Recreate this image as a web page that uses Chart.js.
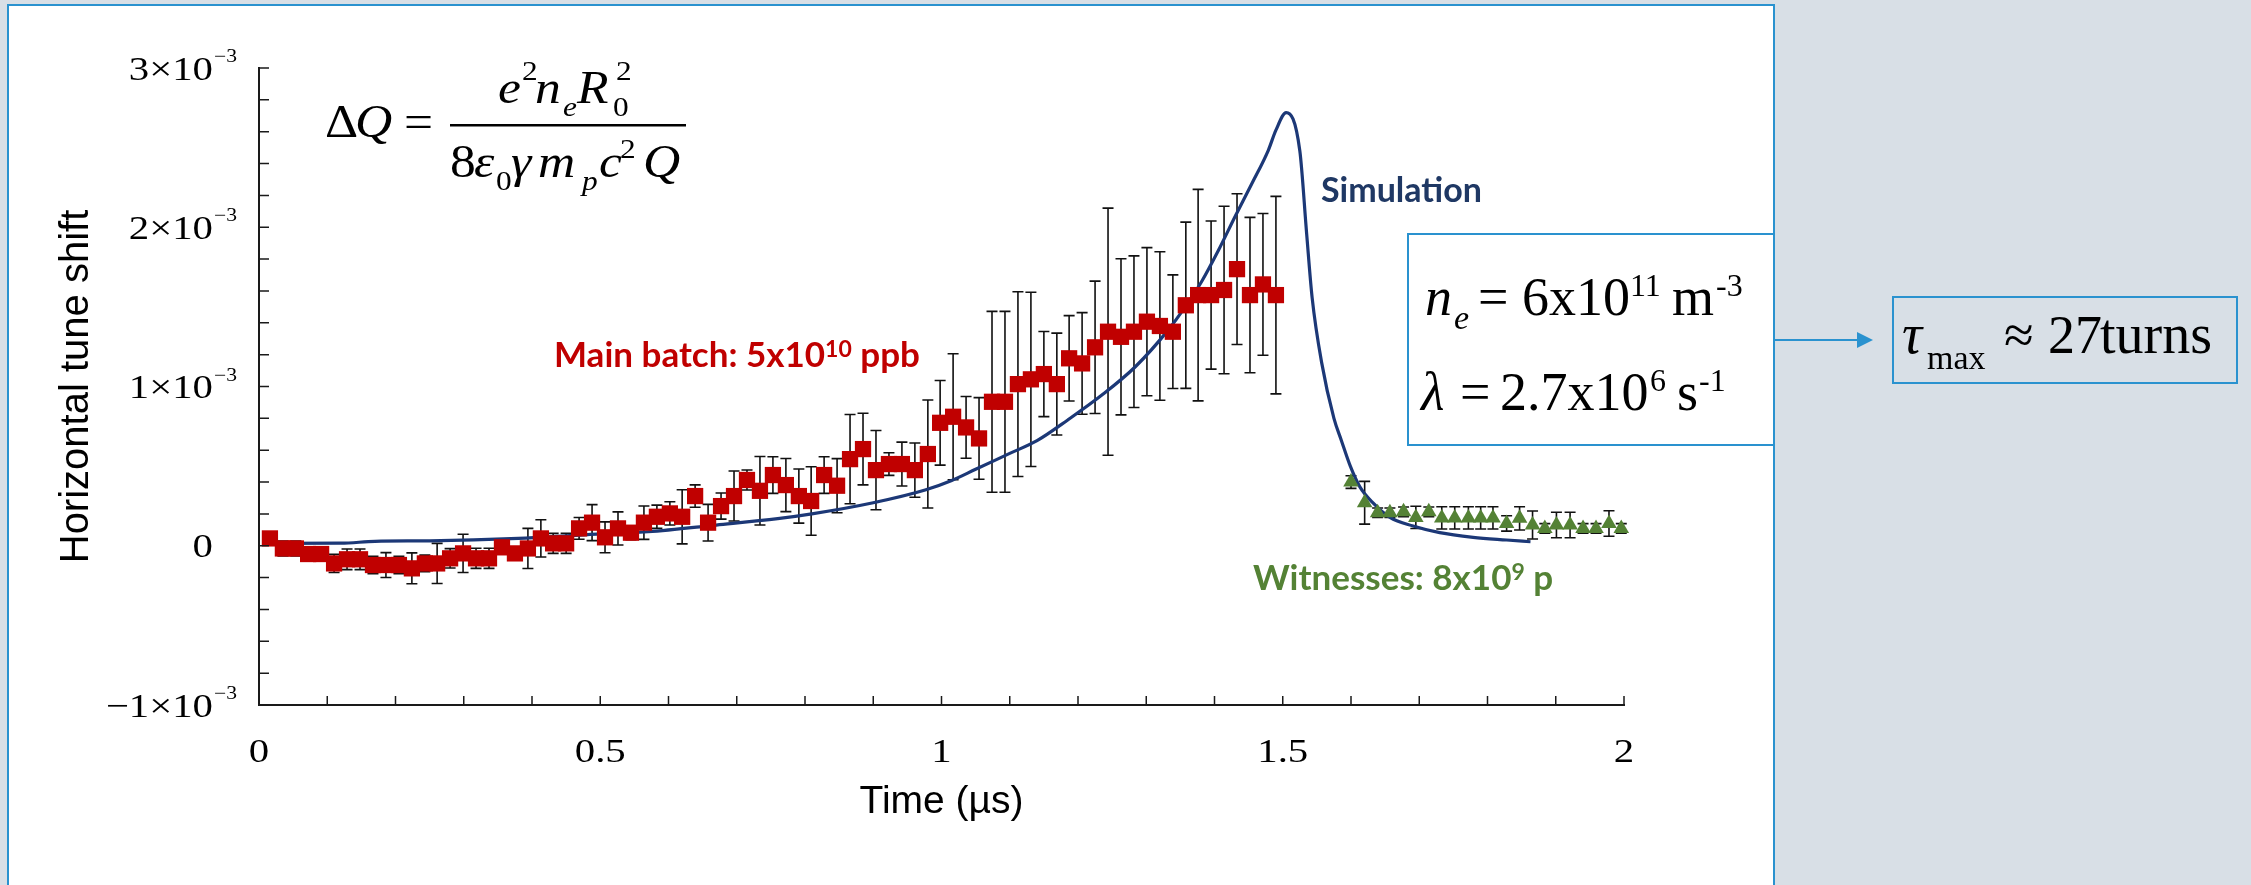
<!DOCTYPE html>
<html>
<head>
<meta charset="utf-8">
<script src="https://cdn.jsdelivr.net/npm/chart.js@4.4.1/dist/chart.umd.min.js"></script>
<style>
  html, body { margin: 0; padding: 0; }
  body { width: 2251px; height: 885px; background: #d8dfe6; position: relative; overflow: hidden; }
  #panel { position: absolute; left: 7px; top: 4px; width: 1768px; height: 900px; box-sizing: border-box;
           background: #fff; border: 2px solid #2a92cf; }
  #wrap { position: absolute; left: 0; top: 0; width: 2251px; height: 885px; }
</style>
</head>
<body>
<div id="panel"></div>
<div id="wrap"><canvas id="tuneChart"></canvas></div>
<script>
// Main batch (red squares): time in µs, tune shift and error in units of 1e-3
const mainTime = [0.016, 0.035, 0.054, 0.072, 0.091, 0.110, 0.129, 0.148, 0.167, 0.186,
  0.205, 0.224, 0.243, 0.261, 0.280, 0.299, 0.318, 0.337, 0.356, 0.375,
  0.394, 0.413, 0.431, 0.450, 0.469, 0.488, 0.507, 0.526, 0.545, 0.564,
  0.583, 0.602, 0.620, 0.639, 0.658, 0.677, 0.696, 0.715, 0.734, 0.753,
  0.772, 0.791, 0.809, 0.828, 0.847, 0.866, 0.885, 0.904, 0.923, 0.942,
  0.961, 0.980, 0.998, 1.017, 1.036, 1.055, 1.074, 1.093, 1.112, 1.131,
  1.150, 1.169, 1.187, 1.206, 1.225, 1.244, 1.263, 1.282, 1.301, 1.320,
  1.339, 1.358, 1.376, 1.395, 1.414, 1.433, 1.452, 1.471, 1.490];
const mainShift = [0.046, -0.017, -0.017, -0.052, -0.052, -0.111, -0.085, -0.085, -0.121, -0.121,
  -0.121, -0.142, -0.111, -0.111, -0.079, -0.048, -0.079, -0.079, -0.010, -0.048,
  -0.017, 0.046, 0.015, 0.015, 0.109, 0.145, 0.053, 0.109, 0.082, 0.145,
  0.182, 0.203, 0.182, 0.312, 0.145, 0.249, 0.312, 0.413, 0.345, 0.444,
  0.381, 0.312, 0.281, 0.444, 0.377, 0.544, 0.607, 0.475, 0.513, 0.513,
  0.475, 0.576, 0.772, 0.810, 0.743, 0.674, 0.904, 0.904, 1.015, 1.045,
  1.078, 1.015, 1.177, 1.145, 1.246, 1.344, 1.312, 1.344, 1.407, 1.380,
  1.344, 1.510, 1.574, 1.574, 1.606, 1.737, 1.574, 1.641, 1.574];
const mainErr = [0, 0.047, 0.047, 0.02, 0.02, 0.057, 0.065, 0.065, 0.054, 0.078,
  0.054, 0.097, 0.052, 0.126, 0.061, 0.12, 0.063, 0.063, 0.03, 0.03,
  0.126, 0.117, 0.063, 0.063, 0.068, 0.113, 0.097, 0.104, 0.044, 0.105,
  0.073, 0.073, 0.17, 0.07, 0.115, 0.082, 0.157, 0.063, 0.215, 0.115,
  0.167, 0.17, 0.215, 0.115, 0.17, 0.28, 0.225, 0.249, 0.071, 0.138,
  0.17, 0.339, 0.266, 0.396, 0.194, 0.256, 0.568, 0.568, 0.58, 0.547,
  0.267, 0.32, 0.268, 0.319, 0.416, 0.776, 0.49, 0.476, 0.465, 0.466,
  0.357, 0.522, 0.664, 0.465, 0.526, 0.473, 0.488, 0.445, 0.62];

// Witness bunches (green triangles)
const witnessTime = [1.600, 1.620, 1.639, 1.657, 1.677, 1.695, 1.714, 1.733, 1.752, 1.772, 1.790,
  1.808, 1.828, 1.847, 1.866, 1.884, 1.901, 1.921, 1.940, 1.959, 1.978, 1.996];
const witnessShift = [0.40, 0.27, 0.207, 0.207, 0.213, 0.178, 0.213, 0.175, 0.175, 0.175, 0.175,
  0.175, 0.14, 0.172, 0.13, 0.109, 0.13, 0.13, 0.109, 0.109, 0.14, 0.109];
const witnessErr = [0.04, 0.134, 0.03, 0.03, 0.03, 0.07, 0.03, 0.07, 0.07, 0.07, 0.07,
  0.07, 0.048, 0.073, 0.088, 0.03, 0.08, 0.08, 0.03, 0.03, 0.08, 0.03];

// Simulation curve
const simTime = [0.02, 0.12, 0.17, 0.25, 0.38, 0.47, 0.57, 0.67, 0.76, 0.81, 0.90, 0.976, 1.015,
  1.05, 1.10, 1.14, 1.185, 1.235, 1.284, 1.332, 1.357, 1.381, 1.406, 1.430, 1.455, 1.479, 1.490,
  1.505, 1.525, 1.535, 1.543, 1.557, 1.575, 1.586, 1.599, 1.613, 1.633, 1.657, 1.691, 1.730,
  1.779, 1.828, 1.863];
const simShift = [0.015, 0.016, 0.028, 0.031, 0.046, 0.067, 0.088, 0.13, 0.17, 0.20, 0.27, 0.35, 0.41,
  0.48, 0.58, 0.66, 0.79, 0.946, 1.124, 1.354, 1.50, 1.658, 1.857, 2.066, 2.276, 2.485, 2.61,
  2.72, 2.48, 1.96, 1.56, 1.15, 0.80, 0.66, 0.50, 0.37, 0.266, 0.178, 0.124, 0.082,
  0.053, 0.036, 0.025];

// Axis labels
const xTickValues = [0, 0.5, 1, 1.5, 2];
const xTickLabels = ['0', '0.5', '1', '1.5', '2'];
const yTickValues = [-1, 0, 1, 2, 3];
const yTickMantissa = ['\u22121\u00d710', '0', '1\u00d710', '2\u00d710', '3\u00d710'];
const yTickExponent = ['\u22123', '', '\u22123', '\u22123', '\u22123'];

const BLUE = '#2a92cf';
const SERIF = '"Liberation Serif", "Times New Roman", serif';
const SANS = '"Liberation Sans", Arial, sans-serif';
const LABEL = 'Lato, "Open Sans", sans-serif';

// the Mathcad labels are stretched sideways in the original
function stretched(ctx, text, x, y, font, align, sx) {
  ctx.save();
  ctx.translate(x, y);
  ctx.scale(sx || 1.2, 1);
  ctx.font = font;
  ctx.textAlign = align;
  ctx.fillText(text, 0, 0);
  ctx.restore();
}

function runText(ctx, x, y, color, parts) {
  ctx.fillStyle = color;
  ctx.textAlign = 'left';
  ctx.textBaseline = 'alphabetic';
  parts.forEach(([text, font, dy]) => {
    ctx.font = font;
    ctx.fillText(text, x, y + (dy || 0));
    x += ctx.measureText(text).width;
  });
}

function placeText(ctx, pieces, sx) {
  ctx.fillStyle = '#000';
  ctx.textBaseline = 'alphabetic';
  pieces.forEach(([text, font, x, y]) => stretched(ctx, text, x, y, font, 'left', sx));
}

const errorBars = {
  id: 'errorBars',
  beforeDatasetsDraw(chart) {
    const {ctx, scales: {x, y}} = chart;
    ctx.save();
    ctx.strokeStyle = '#111';
    ctx.lineWidth = 1.6;
    chart.data.datasets.forEach(ds => {
      if (!ds.errorBars) return;
      ds.data.forEach((p, j) => {
        const e = ds.errorBars[j];
        if (!e) return;
        const px = x.getPixelForValue(p.x);
        const top = y.getPixelForValue(p.y + e);
        const bot = y.getPixelForValue(p.y - e);
        ctx.beginPath();
        ctx.moveTo(px, top); ctx.lineTo(px, bot);
        ctx.moveTo(px - 5.5, top); ctx.lineTo(px + 5.5, top);
        ctx.moveTo(px - 5.5, bot); ctx.lineTo(px + 5.5, bot);
        ctx.stroke();
      });
    });
    ctx.restore();
  }
};

// inward ticks and the tick labels with superscripts
const axisDecor = {
  id: 'axisDecor',
  afterDraw(chart) {
    const {ctx, chartArea: a, scales: {x, y}} = chart;
    ctx.save();
    ctx.strokeStyle = '#1a1a1a';
    ctx.lineWidth = 1.5;
    ctx.beginPath();
    x.ticks.forEach(t => {
      const px = x.getPixelForValue(t.value);
      ctx.moveTo(px, a.bottom); ctx.lineTo(px, a.bottom - 9);
    });
    y.ticks.forEach(t => {
      const py = y.getPixelForValue(t.value);
      ctx.moveTo(a.left, py); ctx.lineTo(a.left + 10, py);
    });
    ctx.stroke();
    ctx.fillStyle = '#000';
    ctx.textBaseline = 'alphabetic';
    xTickValues.forEach((v, i) => {
      stretched(ctx, xTickLabels[i], x.getPixelForValue(v), a.bottom + 57, '34px ' + SERIF, 'center');
    });
    yTickValues.forEach((v, i) => {
      const py = y.getPixelForValue(v);
      stretched(ctx, yTickMantissa[i], a.left - 46, py + 11.5, '34px ' + SERIF, 'right');
      if (yTickExponent[i]) stretched(ctx, yTickExponent[i], a.left - 45, py - 6, '18px ' + SERIF, 'left');
    });
    ctx.restore();
  }
};

const annotations = {
  id: 'annotations',
  afterDraw(chart) {
    const ctx = chart.ctx;
    ctx.save();
    // tune shift formula
    const F = 'italic 46px ' + SERIF, U = '46px ' + SERIF;
    const S = '28px ' + SERIF, SI = 'italic 28px ' + SERIF;
    placeText(ctx, [
      ['\u0394', U, 325, 137], ['Q', F, 355, 137], ['=', U, 404, 137],
      ['e', F, 498, 103], ['2', S, 522, 80], ['n', F, 535, 103], ['e', SI, 563, 116],
      ['R', F, 577, 103], ['2', S, 616, 80], ['0', S, 613, 116],
      ['8', U, 450, 177], ['\u03b5', F, 474, 177], ['0', S, 496, 190], ['\u03b3', F, 511, 177],
      ['m', F, 538, 177], ['p', SI, 582, 190], ['c', F, 599, 177], ['2', S, 620, 158], ['Q', F, 643, 177]
    ], 1.12);
    ctx.fillRect(450, 124, 236, 2.5);

    // series labels
    const B = 'bold 35px ' + LABEL, BS = 'bold 23px ' + LABEL;
    runText(ctx, 554, 367, '#c00000', [['Main batch: 5x10', B], ['10', BS, -10], [' ppb', B]]);
    runText(ctx, 1321, 202, '#1f3864', [['Simulation', 'bold 34px ' + LABEL]]);
    runText(ctx, 1253, 590, '#548235', [['Witnesses: 8x10', B], ['9', BS, -10], [' p', B]]);

    // parameter box
    ctx.fillStyle = '#fff';
    ctx.fillRect(1408, 234, 365, 211);
    ctx.strokeStyle = BLUE;
    ctx.lineWidth = 2;
    ctx.strokeRect(1408, 234, 366, 211);
    const N = '54px ' + SERIF, NI = 'italic 54px ' + SERIF, NS = '32px ' + SERIF;
    placeText(ctx, [
      ['n', NI, 1425, 315], ['e', 'italic 34px ' + SERIF, 1454, 329], ['=', N, 1478, 315],
      ['6x10', N, 1522, 315], ['11', NS, 1630, 296], ['m', N, 1672, 315], ['-3', NS, 1716, 296],
      ['\u03bb', NI, 1421, 410], ['=', N, 1460, 410], ['2.7x10', N, 1500, 410], ['6', NS, 1650, 391],
      ['s', N, 1677, 410], ['-1', NS, 1699, 391]
    ], 1);

    // arrow and result box
    ctx.beginPath();
    ctx.moveTo(1775, 340); ctx.lineTo(1860, 340);
    ctx.stroke();
    ctx.fillStyle = BLUE;
    ctx.beginPath();
    ctx.moveTo(1857, 332); ctx.lineTo(1873, 340); ctx.lineTo(1857, 348);
    ctx.closePath();
    ctx.fill();
    ctx.strokeRect(1893, 297, 344, 86);
    placeText(ctx, [
      ['\u03c4', 'italic 56px ' + SERIF, 1902, 353], ['max', '34px ' + SERIF, 1927, 369],
      ['\u2248', '54px ' + SERIF, 2004, 353], ['27', '54px ' + SERIF, 2048, 353],
      ['turns', '56px ' + SERIF, 2100, 353]
    ], 1);
    ctx.restore();
  }
};

new Chart(document.getElementById('tuneChart'), {
  type: 'scatter',
  data: {
    datasets: [
      {
        label: 'Main batch',
        data: mainTime.map((t, i) => ({x: t, y: mainShift[i]})),
        errorBars: mainErr,
        pointStyle: 'rect',
        pointRadius: 11.5,
        pointHoverRadius: 11.5,
        backgroundColor: '#c00000',
        borderWidth: 0,
        clip: false
      },
      {
        label: 'Witnesses',
        data: witnessTime.map((t, i) => ({x: t, y: witnessShift[i]})),
        errorBars: witnessErr,
        pointStyle: 'triangle',
        pointRadius: 9,
        pointHoverRadius: 9,
        backgroundColor: '#548235',
        borderWidth: 0,
        clip: false
      },
      {
        label: 'Simulation',
        data: simTime.map((t, i) => ({x: t, y: simShift[i]})),
        showLine: true,
        pointRadius: 0,
        borderColor: '#1c3877',
        borderWidth: 3.2,
        cubicInterpolationMode: 'monotone',
        fill: false
      }
    ]
  },
  options: {
    responsive: true,
    maintainAspectRatio: false,
    animation: false,
    layout: { padding: { left: 0, top: 68, right: 627, bottom: 0 } },
    plugins: {
      legend: { display: false },
      tooltip: { enabled: false }
    },
    scales: {
      x: {
        type: 'linear',
        min: 0,
        max: 2,
        grid: { display: false },
        border: { display: true, color: '#1a1a1a', width: 2 },
        ticks: { display: false, stepSize: 0.1 },
        title: {
          display: true,
          text: 'Time (\u00b5s)',
          color: '#000',
          font: { family: SANS, size: 39, lineHeight: 1.2 },
          padding: { top: 0, bottom: 59 }
        },
        afterFit: scale => { scale.height = 180; }
      },
      y: {
        min: -1,
        max: 3,
        grid: { display: false },
        border: { display: true, color: '#1a1a1a', width: 2 },
        ticks: { display: false, stepSize: 0.2 },
        title: {
          display: true,
          text: 'Horizontal tune shift',
          color: '#000',
          font: { family: SANS, size: 40, lineHeight: 1.2 },
          padding: { top: 53, bottom: 0 }
        },
        afterFit: scale => { scale.width = 259; }
      }
    }
  },
  plugins: [errorBars, axisDecor, annotations]
});
</script>
</body>
</html>
